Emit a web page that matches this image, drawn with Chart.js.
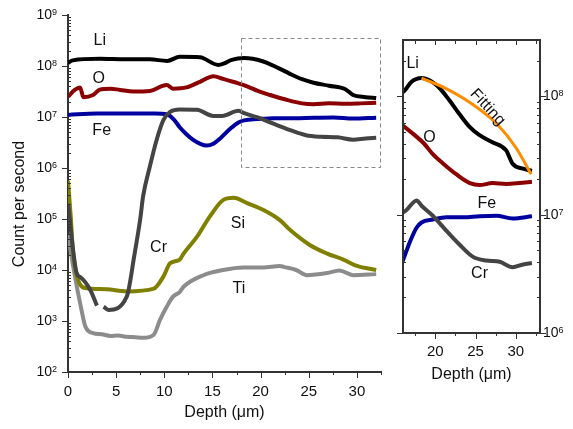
<!DOCTYPE html>
<html>
<head>
<meta charset="utf-8">
<script src="https://cdn.jsdelivr.net/npm/chart.js@4.4.1/dist/chart.umd.min.js"></script>
<style>
  html, body { margin: 0; padding: 0; background: #fff; overflow: hidden; }
  #wrap { position: relative; width: 573px; height: 429px; background: #fff; }
  canvas { position: absolute; top: 0; }
  #mainChart { left: 0; }
  #zoomChart { left: 395px; }
</style>
</head>
<body>
<div id="wrap">
  <canvas id="mainChart" width="395" height="429"></canvas>
  <canvas id="zoomChart" width="178" height="429"></canvas>
</div>
<script>
// depth in um, counts per second
const liDepth = [0, 0.5, 3.3, 6, 8.5, 10.3, 11.6, 13.7, 15.6, 16.2, 17.0, 18.3, 20.2, 21.8, 23.0, 24.3, 25.5, 27.1, 28.8, 29.6, 30.9, 32.0];
const liCounts = [1.15e8, 1.29e8, 1.38e8, 1.35e8, 1.35e8, 1.26e8, 1.51e8, 1.48e8, 1.05e8, 1.12e8, 1.32e8, 1.43e8, 1.24e8, 9.2e7, 7.1e7, 5.5e7, 4.7e7, 4.1e7, 3.5e7, 2.7e7, 2.45e7, 2.35e7];

const oDepth = [0, 0.7, 1.25, 1.6, 2.6, 3.3, 4.4, 5.4, 6.8, 8.5, 10.25, 10.9, 12.3, 13.7, 15.1, 16.1, 17.3, 18.6, 19.7, 21.0, 22.6, 24.3, 25.5, 27.1, 28.8, 30.4, 32.0];
const oCounts = [2.5e7, 3.4e7, 3.8e7, 2.45e7, 2.7e7, 3.45e7, 3.6e7, 3.4e7, 3.15e7, 3.25e7, 4.25e7, 3.6e7, 3.8e7, 4.9e7, 6.3e7, 5.6e7, 4.8e7, 4.0e7, 3.25e7, 2.7e7, 2.2e7, 1.85e7, 1.78e7, 1.85e7, 1.82e7, 1.85e7, 1.9e7];

const feDepth = [0, 3, 6, 9, 10.3, 11.0, 11.6, 12.3, 13.0, 13.7, 14.4, 15.1, 15.8, 16.9, 17.7, 18.3, 19.7, 21.4, 23.5, 25.5, 27.6, 29.6, 32.0];
const feCounts = [1.1e7, 1.17e7, 1.17e7, 1.17e7, 1.12e7, 8.9e6, 6.3e6, 4.6e6, 3.55e6, 3.0e6, 2.75e6, 3.0e6, 3.8e6, 6.0e6, 7.8e6, 8.6e6, 9.1e6, 9.5e6, 9.5e6, 9.7e6, 9.8e6, 9.3e6, 9.7e6];

const crDepth = [0, 0.9, 1.3, 2.3, 3.0, 3.35, 3.7, 4.2, 6.1, 6.9, 7.5, 7.8, 8.5, 9.2, 9.9, 10.6, 11.6, 13.4, 15.1, 16.0, 17.7, 18.3, 19.7, 21.4, 23.0, 24.7, 26.3, 28.0, 29.6, 30.9, 32.0];
const crCounts = [2.0e5, 8.7e3, 7.2e3, 4.1e3, 2.0e3, null, 1.9e3, 1.65e3, 3.0e3, 2.0e4, 1.0e5, 2.8e5, 1.07e6, 3.55e6, 8.7e6, 1.26e7, 1.41e7, 1.38e7, 1.05e7, 1.05e7, 1.32e7, 1.19e7, 9.8e6, 7.3e6, 5.6e6, 4.4e6, 4.1e6, 4.0e6, 3.6e6, 3.8e6, 3.9e6];

const siDepth = [0, 0.3, 0.5, 1.25, 1.9, 4, 6.1, 8.9, 9.9, 10.6, 11.6, 12.0, 13.4, 14.7, 16.1, 17.2, 18.6, 20.3, 22.0, 23.1, 25.1, 26.9, 28.6, 30.0, 32.0];
const siCounts = [5.6e5, 1.0e5, 2.5e4, 5.2e3, 4.4e3, 4.2e3, 3.8e3, 4.3e3, 7.4e3, 1.35e4, 1.6e4, 2.1e4, 4.5e4, 1.1e5, 2.35e5, 2.6e5, 2.05e5, 1.5e5, 9.5e4, 6.0e4, 3.1e4, 2.1e4, 1.6e4, 1.2e4, 1.0e4];

const tiDepth = [0, 0.6, 1.4, 1.8, 2.6, 3.5, 4.4, 5.2, 6.1, 7.0, 7.8, 8.9, 9.55, 10.25, 10.9, 11.6, 12.0, 14.05, 16.1, 18.2, 20.3, 22.0, 22.4, 23.7, 24.8, 26.9, 28.2, 29.6, 32.0];
const tiCounts = [5.0e4, 1.0e4, 1.65e3, 7.8e2, 5.8e2, 5.5e2, 5.1e2, 5.2e2, 4.9e2, 4.8e2, 4.7e2, 5.4e2, 1.05e3, 1.9e3, 3.0e3, 3.7e3, 4.7e3, 7.9e3, 1.0e4, 1.12e4, 1.12e4, 1.2e4, 1.15e4, 1.0e4, 7.9e3, 8.7e3, 9.8e3, 7.9e3, 8.3e3];

const fitDepth = [18.3, 21.4, 24.3, 27.6, 30.0, 31.9];
const fitCounts = [1.43e8, 1.16e8, 8.9e7, 5.9e7, 3.7e7, 2.2e7];

// text labels placed in data coordinates
const mainNotes = [
  { t: "Li", x: 3.3, y: 3.2e8 }, { t: "O", x: 3.2, y: 5.6e7 }, { t: "Fe", x: 3.5, y: 5.4e6 },
  { t: "Cr", x: 9.4, y: 2.7e4 }, { t: "Si", x: 17.65, y: 8.3e4 }, { t: "Ti", x: 17.75, y: 4.3e3 }
];
const zoomNotes = [
  { t: "Li", x: 17.2, y: 1.9e8 }, { t: "O", x: 19.3, y: 4.5e7 }, { t: "Fitting", x: 26.5, y: 8.1e7, rot: 47 },
  { t: "Fe", x: 26.4, y: 1.23e7 }, { t: "Cr", x: 25.5, y: 3.2e6 }
];
const zoomBox = { x0: 18.0, x1: 32.4, y0: 3.6e8, y1: 1.07e6 };

const FONT = "'Liberation Sans', Arial, sans-serif";
Chart.defaults.font.family = FONT;
Chart.defaults.color = "#111";

function pts(xs, ys) {
  return xs.map((x, i) => ({ x: x, y: ys[i] }));
}

function line(label, xs, ys, color, width) {
  return {
    label: label,
    data: pts(xs, ys),
    borderColor: color,
    borderWidth: width,
    pointRadius: 0,
    fill: false,
    cubicInterpolationMode: "monotone",
    spanGaps: false,
    borderJoinStyle: "round"
  };
}

function logTicks(scale) {
  const ticks = [];
  const lo = Math.floor(Math.log10(scale.min) + 1e-9);
  const hi = Math.ceil(Math.log10(scale.max) - 1e-9);
  for (let e = lo; e <= hi; e++) {
    for (let k = 1; k < 10; k++) {
      const v = k * Math.pow(10, e);
      if (v >= scale.min * 0.999 && v <= scale.max * 1.001) ticks.push({ value: v, major: k === 1 });
    }
  }
  scale.ticks = ticks;
}

function depthTicks(from, to) {
  return function (scale) {
    const ticks = [];
    for (let v = from; v <= to + 1e-6; v += 2.5) ticks.push({ value: v, major: v % 5 === 0 });
    scale.ticks = ticks;
  };
}

// tick marks, frame, dashed box, superscript labels and text notes
const decor = {
  id: "decor",
  afterDraw(chart, args, o) {
    const { ctx, chartArea: a } = chart;
    const xs = chart.scales.x, ys = chart.scales.y;
    ctx.save();
    ctx.strokeStyle = "#333";

    if (o.frame) {
      ctx.lineWidth = 2;
      ctx.strokeRect(a.left, a.top, a.right - a.left, a.bottom - a.top);
    }

    ctx.lineWidth = 1;
    (o.marks || []).forEach(m => {
      const sc = chart.scales[m.axis];
      sc.ticks.forEach(t => {
        const p = Math.round(sc.getPixelForValue(t.value)) + 0.5;
        const len = t.major ? m.major : m.minor;
        ctx.beginPath();
        if (m.edge === "bottom") { ctx.moveTo(p, a.bottom); ctx.lineTo(p, a.bottom + len); }
        if (m.edge === "top") { ctx.moveTo(p, a.top); ctx.lineTo(p, a.top - len); }
        if (m.edge === "left") { ctx.moveTo(a.left, p); ctx.lineTo(a.left - len, p); }
        if (m.edge === "right") { ctx.moveTo(a.right, p); ctx.lineTo(a.right + len, p); }
        ctx.stroke();
      });
    });

    if (o.box) {
      ctx.strokeStyle = "#888";
      ctx.setLineDash([4, 3]);
      const bx0 = xs.getPixelForValue(o.box.x0), bx1 = xs.getPixelForValue(o.box.x1);
      const by0 = ys.getPixelForValue(o.box.y0), by1 = ys.getPixelForValue(o.box.y1);
      ctx.strokeRect(Math.round(bx0) + 0.5, Math.round(by0) + 0.5, Math.round(bx1 - bx0), Math.round(by1 - by0));
      ctx.setLineDash([]);
    }

    // 10^n labels
    ctx.fillStyle = "#111";
    ys.ticks.filter(t => t.major).forEach(t => {
      const y = ys.getPixelForValue(t.value);
      const ex = String(Math.round(Math.log10(t.value)));
      ctx.font = "14px " + FONT;
      const w10 = ctx.measureText("10").width;
      ctx.font = "9px " + FONT;
      const we = ctx.measureText(ex).width;
      const x0 = o.yLabels === "left" ? a.left - 11 - we - w10 : a.right + 3;
      ctx.font = "14px " + FONT;
      ctx.textAlign = "left";
      ctx.textBaseline = "middle";
      ctx.fillText("10", x0, y);
      ctx.font = "9px " + FONT;
      ctx.textBaseline = "alphabetic";
      ctx.fillText(ex, x0 + w10, y);
    });

    if (o.yTitle) {
      ctx.save();
      ctx.translate(o.yTitle.x, o.yTitle.y);
      ctx.rotate(-Math.PI / 2);
      ctx.font = "16px " + FONT;
      ctx.textAlign = "center";
      ctx.textBaseline = "middle";
      ctx.fillText(o.yTitle.text, 0, 0);
      ctx.restore();
    }

    ctx.font = "16px " + FONT;
    ctx.textAlign = "center";
    ctx.textBaseline = "middle";
    (o.notes || []).forEach(n => {
      ctx.save();
      ctx.translate(xs.getPixelForValue(n.x), ys.getPixelForValue(n.y));
      if (n.rot) ctx.rotate(n.rot * Math.PI / 180);
      ctx.fillText(n.t, 0, 0);
      ctx.restore();
    });
    ctx.restore();
  }
};

new Chart(document.getElementById("mainChart"), {
  type: "line",
  data: {
    datasets: [
      line("Li", liDepth, liCounts, "#000000", 4),
      line("O", oDepth, oCounts, "#8b0000", 4),
      line("Cr", crDepth, crCounts, "#444444", 4),
      line("Fe", feDepth, feCounts, "#0000a0", 4),
      line("Si", siDepth, siCounts, "#808000", 4),
      line("Ti", tiDepth, tiCounts, "#8c8c8c", 4)
    ]
  },
  options: {
    responsive: false,
    animation: false,
    layout: { padding: { top: 15, right: 14, left: 0, bottom: 0 } },
    plugins: {
      legend: { display: false },
      tooltip: { enabled: false },
      decor: {
        yLabels: "left",
        box: zoomBox,
        notes: mainNotes,
        yTitle: { text: "Count per second", x: 19.5, y: 204 },
        marks: [
          { axis: "x", edge: "bottom", major: 6, minor: 3 },
          { axis: "y", edge: "left", major: 6, minor: -3 }
        ]
      }
    },
    scales: {
      x: {
        type: "linear",
        min: 0,
        max: 32.5,
        grid: { display: false, drawTicks: false },
        border: { color: "#333", width: 2 },
        afterBuildTicks: depthTicks(0, 32.5),
        ticks: {
          autoSkip: false,
          maxRotation: 0,
          padding: 11,
          font: { size: 15 },
          color: "#111",
          callback: v => (v % 5 === 0 ? v : "")
        },
        title: { display: true, text: "Depth (\u03bcm)", font: { size: 16 }, color: "#111", padding: { top: 0, bottom: 7 } },
        afterFit: s => { s.height = 57; }
      },
      y: {
        type: "logarithmic",
        min: 1e2,
        max: 1e9,
        grid: { display: false, drawTicks: false },
        border: { color: "#333", width: 2 },
        afterBuildTicks: logTicks,
        ticks: { display: false },
        afterFit: s => { s.width = 68; }
      }
    }
  },
  plugins: [decor]
});

new Chart(document.getElementById("zoomChart"), {
  type: "line",
  data: {
    datasets: [
      line("Fitting", fitDepth, fitCounts, "#ff8c00", 3),
      line("Li", liDepth, liCounts, "#000000", 4),
      line("O", oDepth, oCounts, "#8b0000", 4),
      line("Cr", crDepth, crCounts, "#444444", 4),
      line("Fe", feDepth, feCounts, "#0000a0", 4)
    ]
  },
  options: {
    responsive: false,
    animation: false,
    layout: { padding: { top: 40, right: 0, left: 8, bottom: 40 } },
    plugins: {
      legend: { display: false },
      tooltip: { enabled: false },
      decor: {
        frame: true,
        yLabels: "right",
        notes: zoomNotes,
        marks: [
          { axis: "x", edge: "bottom", major: 6, minor: 3 },
          { axis: "x", edge: "top", major: -5, minor: -4 },
          { axis: "y", edge: "left", major: 6, minor: -3 },
          { axis: "y", edge: "right", major: 6, minor: -3 }
        ]
      }
    },
    scales: {
      x: {
        type: "linear",
        min: 16,
        max: 33,
        grid: { display: false, drawTicks: false },
        border: { display: false },
        afterBuildTicks: depthTicks(17.5, 32.5),
        ticks: {
          autoSkip: false,
          maxRotation: 0,
          padding: 10,
          font: { size: 15 },
          color: "#111",
          callback: v => (v % 5 === 0 ? v : "")
        },
        title: { display: true, text: "Depth (\u03bcm)", font: { size: 16 }, color: "#111", padding: { top: 0, bottom: 5 } },
        afterFit: s => { s.height = 56; }
      },
      y: {
        type: "logarithmic",
        position: "right",
        min: 1e6,
        max: 3e8,
        grid: { display: false, drawTicks: false },
        border: { display: false },
        afterBuildTicks: logTicks,
        ticks: { display: false },
        afterFit: s => { s.width = 33; }
      }
    }
  },
  plugins: [decor]
});
</script>
</body>
</html>
